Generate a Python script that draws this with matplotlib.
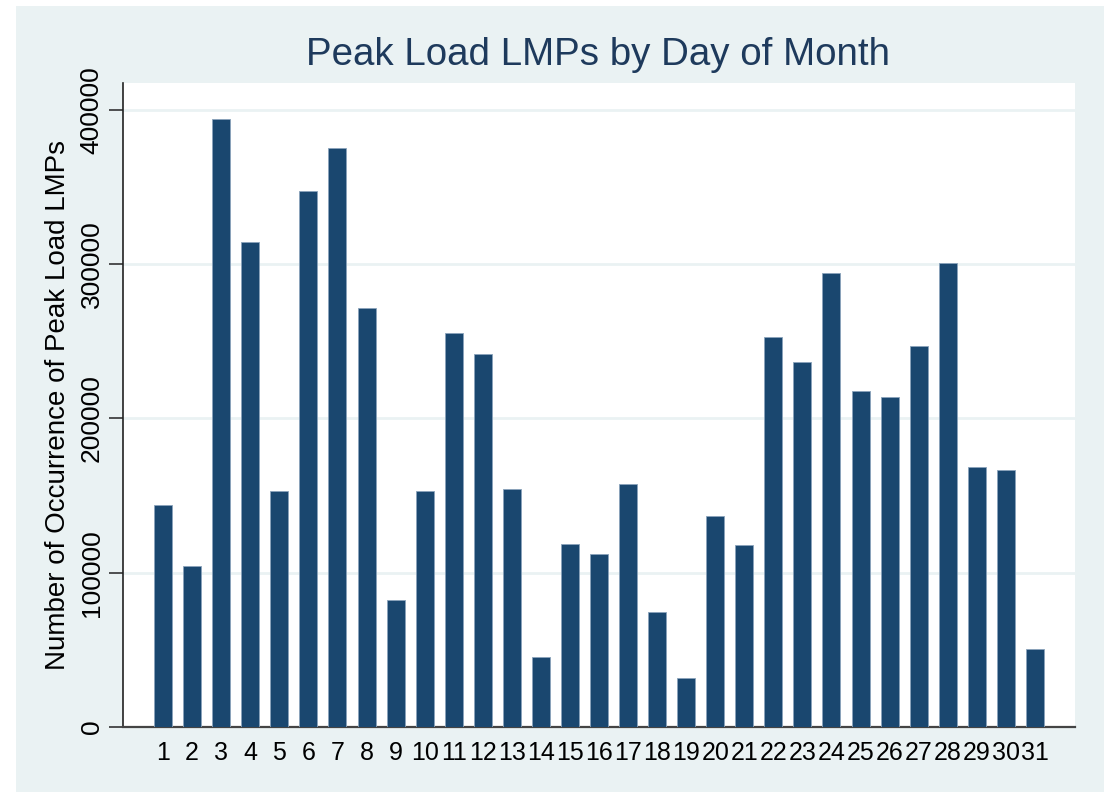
import matplotlib.pyplot as plt
from matplotlib.patches import Rectangle

days = list(range(1, 32))
counts = [144100, 104100, 394000, 314500, 153200, 347600, 375400, 271300,
          82300, 153200, 255100, 241900, 154000, 45200, 118600, 111900,
          157500, 74700, 31500, 136500, 117700, 253000, 236800, 294200,
          218000, 214100, 246900, 300900, 168300, 166800, 50300]
yticks = [0, 100000, 200000, 300000, 400000]

plt.rcParams['font.family'] = ['Liberation Sans', 'DejaVu Sans']

bg = '#eaf2f3'
navy = '#1a476f'

fig = plt.figure(figsize=(11.09, 7.92), dpi=100, facecolor='white')
# outer light panel (Stata style)
fig.patches.append(Rectangle((16/1109, 0), (1104-16)/1109, 1 - 6/792,
                             transform=fig.transFigure, facecolor=bg,
                             edgecolor='none', zorder=-10))

ax = fig.add_axes([123/1109, 1 - 727/792, (1075-123)/1109, (727-83)/792])
ax.set_zorder(5)
ax.set_facecolor('white')

ax.bar(days, counts, width=0.62, color=navy, edgecolor='#8aa3bb',
       linewidth=0.6, zorder=3)

ax.set_xlim(-0.38, 32.38)
ax.set_ylim(0, 417400)
ax.set_yticks(yticks)
ax.set_yticklabels([str(v) for v in yticks], rotation=90, va='center',
                   fontsize=19)
ax.set_xticks(days)
ax.set_xticklabels([str(d) for d in days], fontsize=18)
ax.tick_params(axis='x', length=0, pad=10)
ax.tick_params(axis='y', length=10, width=1.2, color='#333333', pad=4)

ax.grid(axis='y', color=bg, linewidth=2, zorder=0)
ax.set_axisbelow(True)

for s in ['top', 'right']:
    ax.spines[s].set_visible(False)
ax.spines['left'].set_color('#222222')
ax.spines['left'].set_linewidth(1.2)
ax.spines['bottom'].set_color('#444444')
ax.spines['bottom'].set_linewidth(1.6)

ax.set_ylabel('Number of Occurrence of Peak Load LMPs', fontsize=20,
              labelpad=6)
fig.text(598/1109, 1 - 55/792, 'Peak Load LMPs by Day of Month',
         fontsize=27.7, color='#1e3a5c', ha='center', va='center')

fig.savefig('out.png', dpi=100, facecolor='white')
